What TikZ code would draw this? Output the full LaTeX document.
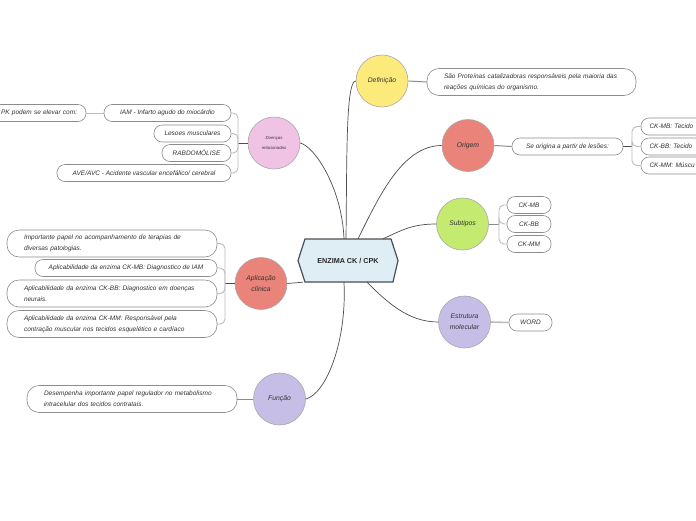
\documentclass[tikz,border=0pt]{standalone}
\usepackage{xcolor}
\usepackage{fontspec}
\setmainfont{Liberation Sans}
\usepackage{tikz}
\usetikzlibrary{calc}
\usetikzlibrary{positioning}
\definecolor{hubfill}{HTML}{DFEEF5}
\definecolor{hubline}{HTML}{4A4F55}
\definecolor{yellowtopic}{HTML}{FCEB7B}
\definecolor{salmontopic}{HTML}{EA837A}
\definecolor{limetopic}{HTML}{C5EA70}
\definecolor{lilactopic}{HTML}{C6BEE6}
\definecolor{pinktopic}{HTML}{F0C3E5}
\definecolor{topicgray}{HTML}{A8A8A8}
\definecolor{leafgray}{HTML}{8C8C8C}
\definecolor{branchgray}{HTML}{4D4D4D}
\definecolor{twiggray}{HTML}{BDBDBD}
\definecolor{inkgray}{HTML}{333333}
\tikzset{>=latex}
\tikzset{
  hubtext/.style = {draw=none, minimum width=86pt, minimum height=43pt, inner sep=0, text=black!85, font=\fontsize{7.2}{8}\selectfont\bfseries},
  topic/.style = {circle, draw=topicgray, line width=0.6pt, minimum size=52pt, inner sep=1, align=center, text=inkgray, font=\fontsize{6.8}{11}\selectfont\itshape},
  leaf/.style = {draw=leafgray, line width=0.6pt, fill=white, rounded corners=8pt, minimum height=17pt, inner sep=0, align=center, text=inkgray, font=\fontsize{6.5}{11}\selectfont\itshape},
  leafwide/.style = {leaf, rounded corners=12pt, minimum height=27pt, align=left},
  branch/.style = {draw=branchgray, line width=0.7pt},
  stem/.style = {draw=leafgray, line width=1pt},
  twig/.style = {draw=twiggray, line width=0.9pt, rounded corners=5pt},
}

\begin{document}
\begin{tikzpicture}[x=1pt, y=-1pt]
\path[use as bounding box, fill=white] (0,0) rectangle (696,520);
% centre
\coordinate (c) at (348,260.5);
\filldraw [fill=hubfill, draw=hubline, line width=1.2pt] ($(c)+(-43,-21.5)$) -- ($(c)+(43,-21.5)$) -- ($(c)+(50,0)$) -- ($(c)+(45,21.5)$) -- ($(c)+(-43,21.5)$) -- ($(c)+(-50,0)$) -- cycle;
\node [hubtext] (hub) at (c) {ENZIMA CK / CPK};

% topics
\node [topic, fill=yellowtopic] (def) at (382,81) {Definição};
\node [topic, fill=salmontopic] (ori) at (468,145.5) {Origem};
\node [topic, fill=limetopic] (sub) at (462.5,224) {Subtipos};
\node [topic, fill=lilactopic] (mol) at (464.5,322) {Estrutura\\molecular};
\node [topic, fill=lilactopic] (fun) at (279.5,399) {Função};
\node [topic, fill=salmontopic] (apl) at (261,283.5) {Aplicação\\clínica};
\node [topic, fill=pinktopic, font=\fontsize{4.3}{10}\selectfont\itshape] (dis) at (274,143) {Doenças\\relacionadas};

\draw [branch] (def.west) .. controls +(-10,0) and +(1,-80) .. ([xshift=-2pt]hub.north);
\draw [branch] (dis.east) .. controls +(15,4) and +(-2,-50) .. ([xshift=-4pt]hub.north);
\draw [branch] (ori.west) .. controls +(-40,0) and +(20,-40) .. ([xshift=10pt]hub.north);
\draw [branch] (sub.west) .. controls +(-25,0) and +(18,-8) .. ([xshift=35pt]hub.north);
\draw [branch] (mol.west) .. controls +(-30,0) and +(20,20) .. ([xshift=19pt]hub.south);
\draw [branch] (fun.east) .. controls +(20,-5) and +(3,60) .. ([xshift=-4pt]hub.south);
\draw [branch] (apl.east) -- ([xshift=-2pt]hub.south west);

% Definição
\node [leafwide, minimum width=209pt, text width=175pt] (defa) at (531.5,82) {São Proteínas catalizadoras responsáveis pela maioria das\\reações químicas do organismo.};
\draw [stem] (def.east) -- (defa.west);

% Origem
\node [leaf, minimum width=111pt] (oria) at (567.5,146.5) {Se origina a partir de lesões:};
\node [leaf, minimum width=90pt, text width=73pt, align=left] (orimb) at (686,126.5) {CK-MB: Tecido};
\node [leaf, minimum width=90pt, text width=73pt, align=left] (oribb) at (686,146.5) {CK-BB: Tecido};
\node [leaf, minimum width=90pt, text width=73pt, align=left] (orimm) at (686,165.5) {CK-MM: Múscu};
\coordinate (orij) at (632,146.5);
\draw [stem] (ori.east) -- (oria.west);
\draw [branch] (oria.east) -- (orij);
\foreach \k in {orimb, oribb, orimm}
  \draw [twig] (orij) |- (\k.west);

% Subtipos
\node [leaf, minimum width=44pt] (submb) at (529,205) {CK-MB};
\node [leaf, minimum width=44pt] (subbb) at (529,224) {CK-BB};
\node [leaf, minimum width=44pt] (submm) at (529,244) {CK-MM};
\coordinate (subj) at (499,224);
\draw [stem] (sub.east) -- (subj);
\foreach \k in {submb, subbb, submm}
  \draw [twig] (subj) |- (\k.west);

% Estrutura molecular
\node [leaf, minimum width=43pt] (mola) at (530.5,322.5) {WORD};
\draw [stem, draw=twiggray, line width=1.6pt] (mol.east) -- (mola.west);

% Doenças relacionadas
\node [leaf, minimum width=127pt] (disiam) at (167.5,113) {IAM - Infarto agudo do miocárdio};
\node [leaf, minimum width=100pt, text width=82pt, align=right] (disck) at (36,113) {PK podem se elevar com:};
\node [leaf, minimum width=77pt] (disles) at (192.5,133.5) {Lesoes musculares};
\node [leaf, minimum width=69pt] (disrab) at (196.5,153) {RABDOMÓLISE};
\node [leaf, minimum width=174pt] (disave) at (144,173) {AVE/AVC - Acidente vascular encefálico/ cerebral};
\coordinate (disj) at (238,143);
\draw [branch] (dis.west) -- (disj);
\foreach \k in {disiam, disles, disrab, disave}
  \draw [twig] (disj) |- (\k.east);
\draw [twig] (disiam.west) -- (disck.east);

% Aplicação clínica
\node [leafwide, minimum width=210pt, text width=176pt] (aplimp) at (112,243.5) {Importante papel no acompanhamento de terapias de\\diversas patologias.};
\node [leaf, minimum width=182pt] (aplmb) at (126,268) {Aplicabilidade da enzima CK-MB: Diagnostico de IAM};
\node [leafwide, minimum width=210pt, text width=176pt] (aplbb) at (112,293.5) {Aplicabilidade da enzima CK-BB: Diagnostico em doenças\\neurais.};
\node [leafwide, minimum width=210pt, text width=176pt] (aplmm) at (112,324) {Aplicabilidade da enzima CK-MM: Responsável pela\\contração muscular nos tecidos esquelético e cardíaco};
\coordinate (aplj) at (225,283.5);
\draw [branch] (apl.west) -- (aplj);
\foreach \k in {aplimp, aplmb, aplbb, aplmm}
  \draw [twig] (aplj) |- (\k.east);

% Função
\node [leafwide, minimum width=210pt, text width=176pt] (funa) at (132,399) {Desempenha importante papel regulador no metabolismo\\intracelular dos tecidos contratais.};
\draw [stem] (fun.west) -- (funa.east);
\end{tikzpicture}
\end{document}
